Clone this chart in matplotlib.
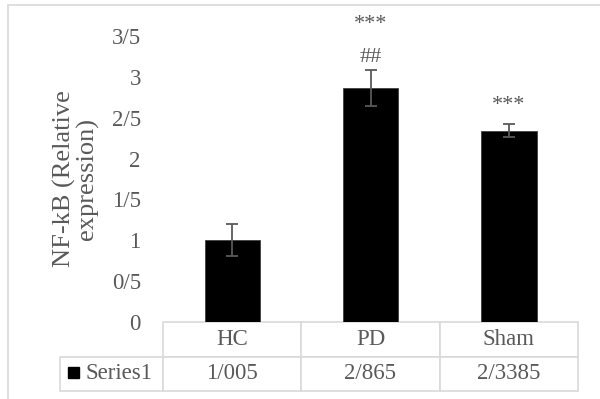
import matplotlib.pyplot as plt
from matplotlib.patches import Rectangle

# data
groups = ["HC", "PD", "Sham"]
means = [1.005, 2.865, 2.3385]
errs = [0.195, 0.225, 0.08]
table_vals = ["1/005", "2/865", "2/3385"]
yticks = [0, 0.5, 1, 1.5, 2, 2.5, 3, 3.5]
ytick_labels = ["0", "0/5", "1", "1/5", "2", "2/5", "3", "3/5"]
# significance marks: (group index, text, offset above error bar)
marks = [(1, "##", 0.15), (1, "***", 0.55), (2, "***", 0.23)]

grey = "#595959"
line = "#d9d9d9"
plt.rcParams["font.family"] = ["Liberation Serif", "DejaVu Sans"]

fig = plt.figure(figsize=(6, 3.99), dpi=100)
W, H = 600, 399
ax = fig.add_axes([163 / W, 1 - 322 / H, 415 / W, 286 / H])

# chart border
fig.patches.append(Rectangle((8 / W, -0.05), 1.1, 1 - 5 / H + 0.05,
                             transform=fig.transFigure, fill=False,
                             edgecolor=line, lw=1.2))

x = range(len(groups))
ax.bar(x, means, width=0.4, color="black", edgecolor="#404040", lw=0.6)
ax.errorbar(x, means, yerr=errs, fmt="none", ecolor=grey, elinewidth=1.3,
            capsize=4.5, capthick=1.3)

for i, s, off in marks:
    ax.text(i, means[i] + errs[i] + off, s, ha="center", va="center",
            fontsize=16, color=grey, clip_on=False)

ax.set_xlim(-0.5, 2.5)
ax.set_ylim(0, 3.5)
ax.set_xticks([])
ax.set_yticks(yticks)
ax.set_yticklabels(ytick_labels, fontsize=16.5, color=grey)
ax.tick_params(axis="y", length=0, pad=16)
for sp in ax.spines.values():
    sp.set_visible(False)

ax.text(-0.21, 0.5, "NF-kB (Relative\nexpression)", transform=ax.transAxes,
        rotation=90, ha="center", va="center", multialignment="center",
        fontsize=19, color=grey, linespacing=0.95)

# data table under the bars
lab_w = 103 / 415
h = 69 / 286
cells = [[""] + groups, ["Series1"] + table_vals]
tbl = ax.table(cellText=cells, colWidths=[lab_w] + [1 / 3] * 3,
               cellLoc="center", bbox=[-lab_w, -h, 1 + lab_w, h])
tbl.auto_set_font_size(False)
for (r, c), cell in tbl.get_celld().items():
    cell.set_edgecolor(line)
    cell.set_linewidth(1.2)
    cell.get_text().set_color(grey)
    cell.get_text().set_fontsize(16.5)
tbl[0, 0].set_visible(False)
tbl[1, 0]._loc = "right"
tbl[1, 0].get_text().set_horizontalalignment("right")

# legend key in the series cell
ax.add_patch(Rectangle((-95 / 415, -56 / 286), 11 / 415, 11 / 286,
                       transform=ax.transAxes, color="black", clip_on=False))

fig.savefig("out.png", dpi=100)
